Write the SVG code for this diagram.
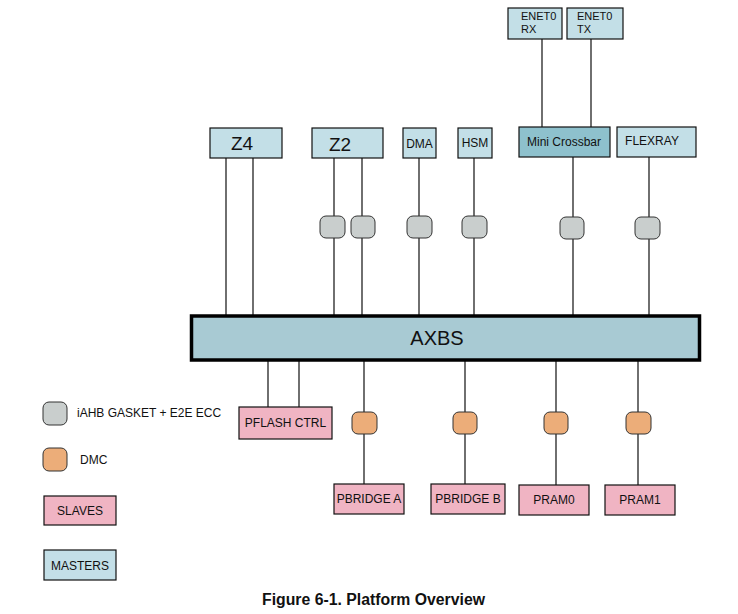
<svg xmlns="http://www.w3.org/2000/svg" width="738" height="614" viewBox="0 0 738 614">
<style>
text{font-family:"Liberation Sans",Arial,sans-serif;fill:#111;}
.m{fill:#c3dfe7;stroke:#111;stroke-width:1.2;}
.mc{fill:#8ec1cd;stroke:#111;stroke-width:1.2;}
.s{fill:#f0b4c3;stroke:#111;stroke-width:1.2;}
.g{fill:#c9cecd;stroke:#333;stroke-width:1;}
.d{fill:#ecad79;stroke:#333;stroke-width:1;}
.w{stroke:#111;stroke-width:1.2;fill:none;}
.c{text-anchor:middle;}
.t12{font-size:12px;}
.t11{font-size:11px;}
.t18{font-size:19px;}
</style>
<rect width="738" height="614" fill="#fff"/>
<g id="connectors">
<path class="w" d="M542 39V127M591 39V127"/>
<path class="w" d="M226 158V316M253 158V316"/>
<path class="w" d="M334 158V216M334 238V316M362 158V216M362 238V316"/>
<path class="w" d="M419 158V216M419 238V316M474 158V216M474 238V316"/>
<path class="w" d="M573 157V217M573 239V316M649 157V217M649 239V316"/>
<path class="w" d="M268 360V407M299 360V407"/>
<path class="w" d="M364 360V412M364 434V484M465 360V412M465 434V484M556 360V412M556 434V485M638 360V412M638 434V485"/>
</g>
<g id="enet0rx"><rect class="m" x="508" y="8" width="54" height="31"/><text class="t11" x="521" y="20">ENET0</text><text class="t11" x="521" y="33">RX</text></g>
<g id="enet0tx"><rect class="m" x="567" y="8" width="56" height="31"/><text class="t11" x="577" y="20">ENET0</text><text class="t11" x="577" y="33">TX</text></g>
<g id="z4"><rect class="m" x="210" y="128" width="72" height="30"/><text class="t18 c" x="242" y="150">Z4</text></g>
<g id="z2"><rect class="m" x="312" y="128" width="71" height="30"/><text class="t18 c" x="340" y="151">Z2</text></g>
<g id="dma"><rect class="m" x="403" y="128" width="33" height="30"/><text class="t12 c" x="419.5" y="148">DMA</text></g>
<g id="hsm"><rect class="m" x="458" y="128" width="34" height="30"/><text class="t12 c" x="475" y="147">HSM</text></g>
<g id="minicrossbar"><rect class="mc" x="519" y="127" width="91" height="30"/><text class="t12 c" x="564" y="146">Mini Crossbar</text></g>
<g id="flexray"><rect class="m" x="617" y="127" width="79" height="30"/><text class="t12 c" x="652" y="145">FLEXRAY</text></g>
<g id="gaskets">
<rect class="g" x="320" y="216" width="25" height="22" rx="6"/>
<rect class="g" x="351" y="216" width="24" height="22" rx="6"/>
<rect class="g" x="407" y="216" width="25" height="22" rx="6"/>
<rect class="g" x="462" y="216" width="25" height="22" rx="6"/>
<rect class="g" x="560" y="217" width="24" height="22" rx="6"/>
<rect class="g" x="635" y="217" width="25" height="22" rx="6"/>
</g>
<g id="axbs"><rect x="191.5" y="316" width="508" height="44" fill="#a8cad3" stroke="#000" stroke-width="3.5"/><text class="c" x="437" y="345" font-size="20">AXBS</text></g>
<g id="pflashctrl"><rect class="s" x="239" y="407" width="93" height="32"/><text class="t12 c" x="285.5" y="427">PFLASH CTRL</text></g>
<g id="dmcs">
<rect class="d" x="352" y="412" width="25" height="22" rx="6"/>
<rect class="d" x="453" y="412" width="24" height="22" rx="6"/>
<rect class="d" x="544" y="412" width="24" height="22" rx="6"/>
<rect class="d" x="626" y="412" width="25" height="22" rx="6"/>
</g>
<g id="pbridgea"><rect class="s" x="334" y="484" width="70" height="30"/><text class="t12 c" x="369" y="503">PBRIDGE A</text></g>
<g id="pbridgeb"><rect class="s" x="431" y="484" width="74" height="30"/><text class="t12 c" x="468" y="503">PBRIDGE B</text></g>
<g id="pram0"><rect class="s" x="519" y="485" width="70" height="30"/><text class="t12 c" x="554" y="504">PRAM0</text></g>
<g id="pram1"><rect class="s" x="605" y="485" width="70" height="30"/><text class="t12 c" x="640" y="504">PRAM1</text></g>
<g id="legend">
<rect class="g" x="43" y="402" width="24" height="23" rx="6"/><text class="t12" x="77" y="417">iAHB GASKET + E2E ECC</text>
<rect class="d" x="43" y="448" width="24" height="23" rx="6"/><text class="t12" x="80" y="464">DMC</text>
<rect class="s" x="44" y="496" width="72" height="29"/><text class="t12 c" x="80" y="515">SLAVES</text>
<rect class="m" x="44" y="550" width="72" height="30"/><text class="t12 c" x="80" y="570">MASTERS</text>
</g>
<text class="c" x="373.5" y="605" font-size="15.8" font-weight="bold">Figure 6-1. Platform Overview</text>
</svg>
